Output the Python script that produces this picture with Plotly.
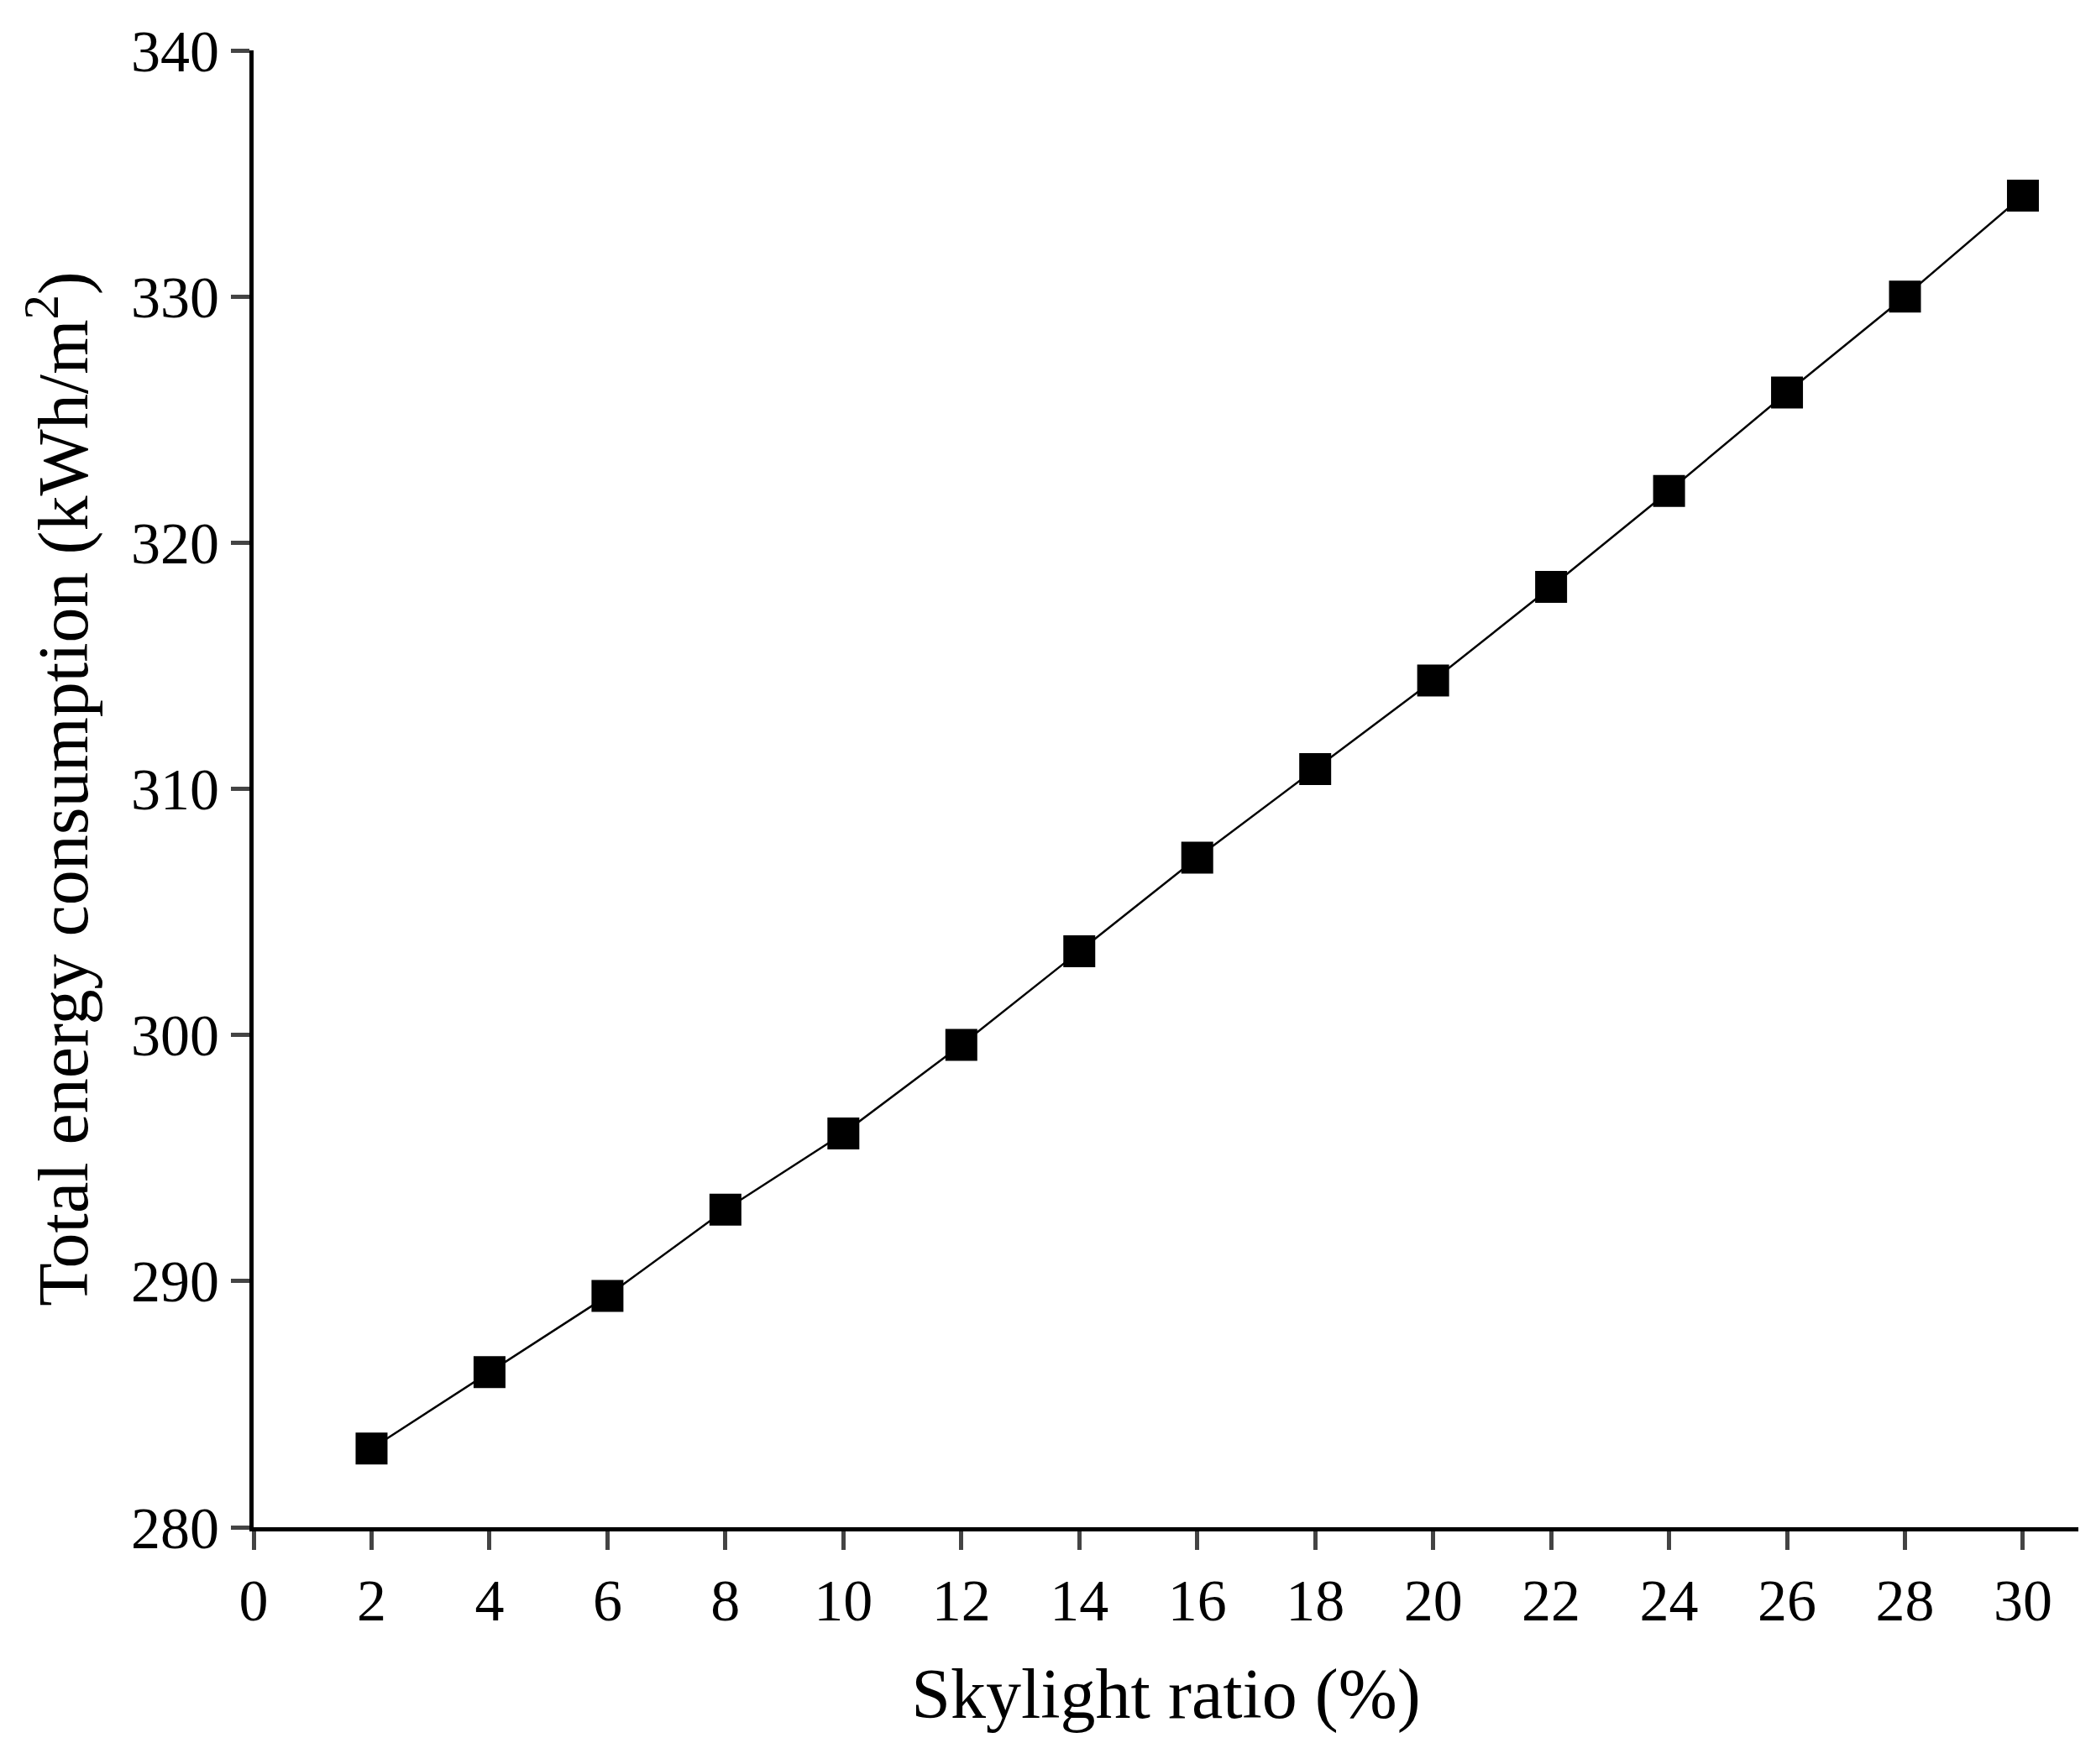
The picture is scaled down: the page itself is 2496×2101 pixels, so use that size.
import plotly.graph_objects as go

ratio = [2, 4, 6, 8, 10, 12, 14, 16, 18, 20, 22, 24, 26, 28, 30]
energy = [283.2, 286.3, 289.4, 292.9, 296.0, 299.6, 303.4, 307.2, 310.8, 314.4, 318.2, 322.1, 326.1, 330.0, 334.1]
xticks = list(range(0, 31, 2))
yticks = list(range(280, 341, 10))

fig = go.Figure(go.Scatter(
    x=ratio, y=energy, mode="lines+markers",
    line=dict(color="black", width=2.5),
    marker=dict(symbol="square", size=38, color="black"),
))
font = dict(family="Liberation Serif", color="black")
fig.update_layout(
    width=2496, height=2101, plot_bgcolor="white", paper_bgcolor="white",
    margin=dict(l=294, r=29, t=52, b=290), showlegend=False,
    font=font,
)
fig.update_xaxes(range=[0, 30.94], tickvals=xticks, ticks="outside", ticklen=22, tickwidth=5,
                 showline=True, linewidth=5, linecolor="black", showgrid=False, zeroline=False,
                 tickfont=dict(size=70, **font),
                 title=dict(text="Skylight ratio (%)", font=dict(size=84, **font), standoff=45))
fig.update_yaxes(range=[280, 340], tickvals=yticks, ticks="outside", ticklen=22, tickwidth=5,
                 showline=True, linewidth=5, linecolor="black", showgrid=False, zeroline=False,
                 tickfont=dict(size=70, **font),
                 title=dict(text="Total energy consumption (kWh/m<sup>2</sup>)", font=dict(size=84, **font), standoff=25))
fig.write_html("out.html")
